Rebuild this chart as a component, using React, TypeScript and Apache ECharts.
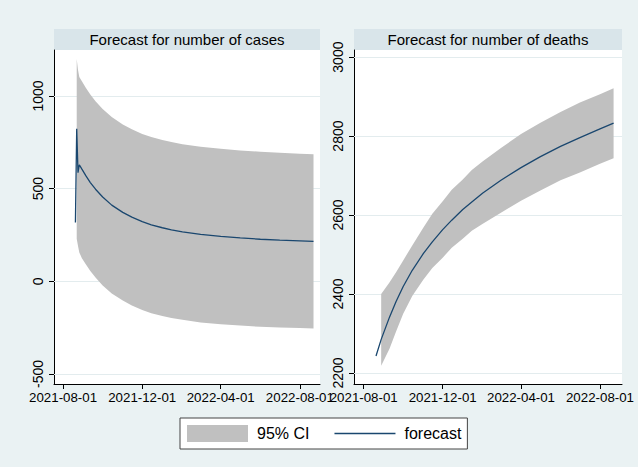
import React, { useEffect, useRef } from "react";
import * as echarts from "echarts";

// ---- data ----
const xTickLabels = ["2021-08-01", "2021-12-01", "2022-04-01", "2022-08-01"];
const casesTicks = [-500, 0, 500, 1000];
const deathsTicks = [2200, 2400, 2600, 2800, 3000];

const caseDates = ["2021-08-20", "2021-08-22", "2021-08-24", "2021-08-26", "2021-08-30", "2021-09-05", "2021-09-12", "2021-09-20", "2021-10-01", "2021-10-15", "2021-11-01", "2021-11-15", "2021-12-01", "2021-12-15", "2022-01-01", "2022-01-15", "2022-02-01", "2022-03-01", "2022-04-01", "2022-05-01", "2022-06-01", "2022-07-01", "2022-08-01", "2022-08-22"];
const caseForecast = [317, 823, 586, 629, 605, 570, 533, 497, 455, 411, 372, 346, 322, 305, 289, 278, 267, 253, 242, 234, 227, 222, 218, 215];
const caseUpper = [null, 1199, 1140, 1102, 1080, 1045, 1008, 972, 930, 886, 846, 820, 795, 778, 762, 751, 740, 726, 715, 706, 699, 693, 688, 685];
const caseLower = [null, 230, 190, 156, 125, 92, 56, 20, -22, -66, -104, -130, -155, -172, -187, -198, -208, -222, -232, -239, -245, -249, -252, -254];

const deathDates = ["2021-08-20", "2021-08-28", "2021-09-10", "2021-09-20", "2021-10-01", "2021-10-15", "2021-11-01", "2021-11-15", "2021-12-01", "2021-12-15", "2022-01-01", "2022-01-15", "2022-02-01", "2022-03-01", "2022-04-01", "2022-05-01", "2022-06-01", "2022-07-01", "2022-08-01", "2022-08-22"];
const deathForecast = [2243, 2285, 2342, 2381, 2419, 2460, 2502, 2532, 2563, 2587, 2614, 2633, 2656, 2688, 2720, 2748, 2774, 2796, 2818, 2833];
const deathUpper = [null, 2400, 2430, 2455, 2485, 2523, 2568, 2603, 2635, 2664, 2690, 2714, 2736, 2770, 2805, 2834, 2861, 2885, 2906, 2921];
const deathLower = [null, 2218, 2262, 2305, 2350, 2395, 2436, 2466, 2492, 2517, 2540, 2560, 2578, 2606, 2636, 2662, 2688, 2708, 2730, 2744];

const titles = ["Forecast for number of cases", "Forecast for number of deaths"];

// ---- styling ----
const FONT = "'Liberation Sans', Arial, sans-serif";
const NAVY = "#1A476F";
const CI_GREY = "#C0C0C0";
const BG = "#EAF2F3";
const STRIP = "#D9E5EA";
const GRIDLINE = "#E3ECEE";

const ts = (s: string) => Date.parse(s + "T00:00:00Z");
const pad2 = (n: number) => String(n).padStart(2, "0");
const fmtDate = (v: number) => {
  const d = new Date(v);
  return `${d.getUTCFullYear()}-${pad2(d.getUTCMonth() + 1)}-${pad2(d.getUTCDate())}`;
};

const panels = [
  { left: 54, width: 266, xMin: "2021-07-18", xMax: "2022-09-01", yMin: -554, yMax: 1248, ticks: casesTicks, dates: caseDates, f: caseForecast, up: caseUpper, lo: caseLower },
  { left: 354, width: 268, xMin: "2021-07-17", xMax: "2022-09-04", yMin: 2172, yMax: 3018, ticks: deathsTicks, dates: deathDates, f: deathForecast, up: deathUpper, lo: deathLower },
];
const TOP = 50;
const HEIGHT = 334;

export default function App() {
  const ref = useRef<HTMLDivElement>(null);
  useEffect(() => {
    if (!ref.current) return;
    const chart = echarts.init(ref.current, null, { renderer: "svg" });
    const xTickVals = xTickLabels.map(ts);

    const grid: any[] = [];
    const xAxis: any[] = [];
    const yAxis: any[] = [];
    const series: any[] = [];
    const graphic: any[] = [];

    panels.forEach((p, i) => {
      grid.push({ left: p.left, top: TOP, width: p.width, height: HEIGHT, show: true, backgroundColor: "#fff", borderWidth: 0 });
      xAxis.push({
        type: "value", gridIndex: i, min: ts(p.xMin), max: ts(p.xMax),
        axisLine: { show: true, onZero: false, lineStyle: { color: "#000", width: 1 } },
        axisTick: { show: true, length: 5, customValues: xTickVals, lineStyle: { color: "#000" } },
        axisLabel: { customValues: xTickVals, formatter: (v: number) => fmtDate(v), fontSize: 13.3, fontFamily: FONT, color: "#000", margin: 7 },
        splitLine: { show: false },
      });
      yAxis.push({
        type: "value", gridIndex: i, min: p.yMin, max: p.yMax,
        axisLine: { show: true, onZero: false, lineStyle: { color: "#000", width: 1 } },
        axisTick: { show: true, length: 5, customValues: p.ticks, lineStyle: { color: "#000" } },
        axisLabel: { customValues: p.ticks, formatter: (v: number) => String(v), rotate: 90, fontSize: 14, fontFamily: FONT, color: "#000", margin: 9 },
        splitLine: { show: false },
      });
      const xs = p.dates.map(ts);
      const band = xs
        .map((x, k) => [x, p.lo[k], p.up[k]])
        .filter((r) => r[1] != null && r[2] != null) as number[][];
      series.push({
        type: "custom", name: "95% CI", xAxisIndex: i, yAxisIndex: i,
        color: CI_GREY, itemStyle: { color: CI_GREY }, silent: true, z: 2,
        encode: { x: 0, y: [1, 2] },
        data: band,
        renderItem: (params: any, api: any) => {
          if (params.dataIndex !== 0) return null;
          const upperPts = band.map((r) => api.coord([r[0], r[2]]));
          const lowerPts = band.map((r) => api.coord([r[0], r[1]])).reverse();
          return { type: "polygon", shape: { points: upperPts.concat(lowerPts) }, style: { fill: CI_GREY } };
        },
        markLine: {
          silent: true, symbol: "none", z: 1, label: { show: false },
          lineStyle: { color: GRIDLINE, width: 1, type: "solid" },
          data: p.ticks.map((t) => ({ yAxis: t })),
        },
      });
      series.push({
        type: "line", name: "forecast", xAxisIndex: i, yAxisIndex: i,
        data: xs.map((x, k) => [x, p.f[k]]), symbol: "none", color: NAVY, itemStyle: { color: NAVY },
        lineStyle: { color: NAVY, width: 1.3 }, z: 3,
      });
      graphic.push({ type: "rect", shape: { x: p.left, y: 29, width: p.width, height: 21 }, style: { fill: STRIP }, silent: true });
      graphic.push({
        type: "text", x: p.left + p.width / 2, y: 39, silent: true,
        style: { text: titles[i], fill: "#000", fontSize: 15, fontFamily: FONT, align: "center", verticalAlign: "middle" },
      });
    });

    chart.setOption({
      animation: false,
      backgroundColor: BG,
      grid, xAxis, yAxis, series, graphic,
      legend: {
        left: 180, top: 418, orient: "horizontal", selectedMode: false,
        backgroundColor: "#fff", borderColor: "#444", borderWidth: 1, borderRadius: 0,
        padding: [7, 6, 7, 7], itemGap: 25, itemWidth: 61, itemHeight: 17,
        textStyle: { fontSize: 16, fontFamily: FONT, color: "#000", padding: [0, 0, 0, 4] },
        data: [
          { name: "95% CI", icon: "rect", itemStyle: { color: CI_GREY } },
          { name: "forecast", icon: "path://M0,0H40V1H0Z", itemStyle: { color: NAVY } },
        ],
      },
    });
    return () => chart.dispose();
  }, []);
  return <div ref={ref} style={{ position: "absolute", left: 0, top: 0, width: 638, height: 467 }} />;
}
